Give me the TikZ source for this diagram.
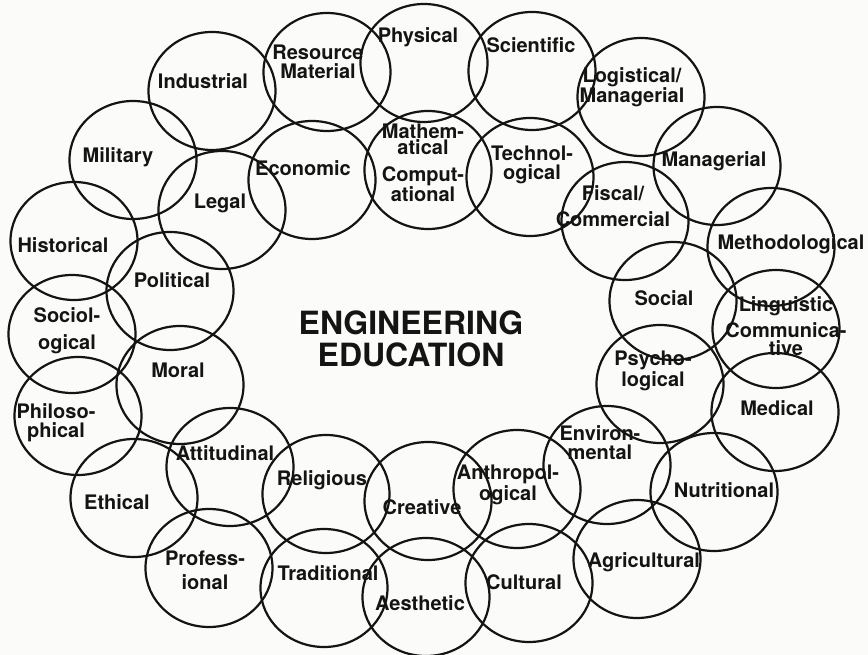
\documentclass[tikz,border=0pt]{standalone}
\usepackage{fontspec}
\setmainfont{TeX Gyre Heros}
\usepackage{xcolor}
\definecolor{ink}{RGB}{20,20,20}
\definecolor{paper}{RGB}{251,251,250}

\begin{document}
\begin{tikzpicture}[x=1pt,y=-1pt,
  ring/.style={draw=ink,line width=2.2pt},
  field/.style={font=\bfseries\fontsize{20}{19}\selectfont,text=ink,align=center,inner sep=0pt},
  headline/.style={font=\bfseries\fontsize{32}{32}\selectfont,text=ink,align=center,inner sep=0pt}]
  \fill[paper] (0,0) rectangle (868,655);
  \useasboundingbox (0,0) rectangle (868,655);
  % the rings, centre x/centre y
  \foreach \x/\y in {212/91,327/72,424/63,532/71,641/97,133/160,312/180,428/170,
    530/177,222/210,717/166,625/221,74/241,170/291,771/247,673/301,776/329,
    72/334,180/385,660/384,78/416,775/412,230/467,607/465,326/494,517/489,
    714/492,134/498,428/501,209/568,324/588,637/559,529/583,426/597}{
    \draw[ring] (\x,\y) ellipse [x radius=63.5pt, y radius=59pt];
  }
  % one label per ring
  \foreach \name/\x/\y/\txt in {
    industrial/203/81/Industrial,
    resource/318/62/{Resource\\Material},
    physical/418/37/Physical,
    scientific/531/45/Scientific,
    logistical/632/87/{Logistical/\\Managerial},
    military/118/157/Military,
    economic/303/168/Economic,
    technological/532/165/{Technol-\\ogical},
    legal/220/203/Legal,
    managerial/714/161/Managerial,
    fiscal/613/206/{Fiscal/\\[7pt]Commercial},
    historical/63/245/Historical,
    political/172/280/Political,
    methodological/791/244/Methodological,
    social/664/298/Social,
    linguistic/786/326/{Linguistic\\[6pt]Communica-\\[-1pt]tive},
    sociological/67/331/{Sociol-\\[8pt]ogical},
    moral/178/370/Moral,
    psychological/653/371/{Psycho-\\logical},
    philosophical/56/423/{Philoso-\\phical},
    medical/777/408/Medical,
    attitudinal/225/453/Attitudinal,
    environmental/600/443/{Environ-\\mental},
    religious/322/480/Religious,
    anthropological/508/485/{Anthropol-\\ogical},
    nutritional/724/490/Nutritional,
    ethical/117/502/Ethical,
    creative/422/507/Creative,
    professional/205/570/{Profess-\\[5pt]ional},
    traditional/328/573/Traditional,
    agricultural/644/562/Agricultural,
    cultural/524/582/Cultural,
    aesthetic/420/603/Aesthetic}{
    \node[field] (\name) at (\x,\y) {\txt};
  }
  \node[field,font=\bfseries\fontsize{20}{15.5}\selectfont] (mathematical) at (423,163)
    {Mathem-\\atical\\[12pt]Comput-\\ational};
  \node[headline] (title) at (411,339) {ENGINEERING\\EDUCATION};
\end{tikzpicture}
\end{document}
